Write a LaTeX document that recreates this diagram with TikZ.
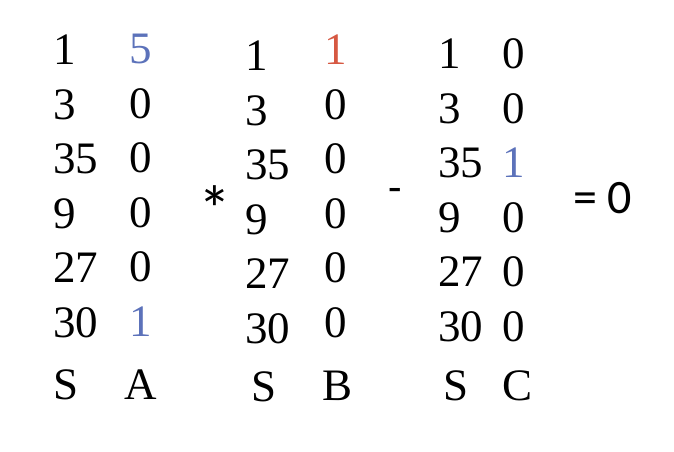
\documentclass[tikz,border=0pt]{standalone}
\usepackage{fontspec}
\setmainfont{Liberation Serif}
\newfontfamily\opfont{Carlito}
\usetikzlibrary{positioning}
\definecolor{bluemark}{RGB}{92,114,186}
\definecolor{redmark}{RGB}{214,88,66}

\begin{document}
\begin{tikzpicture}[x=1pt, y=1pt,
                node distance=54.5pt, on grid,
                cell/.style={inner sep=0pt, font=\fontsize{45}{50}\selectfont},
                scol/.style={cell, text width=48pt, align=left},
                vcol/.style={cell},
                opsym/.style={inner sep=0pt, anchor=base, font=\opfont\fontsize{48}{52}\selectfont}]
                \useasboundingbox (0,0) rectangle (674,-452);

                % First pair - S and A
                \node[scol] (sa1) at (77,-50) {1};
                \node[scol, below=of sa1] (sa2) {3};
                \node[scol, below=of sa2] (sa3) {35};
                \node[scol, below=of sa3] (sa4) {9};
                \node[scol, below=of sa4] (sa5) {27};
                \node[scol, below=of sa5] (sa6) {30};
                \node[scol, below=62pt of sa6] (sa) {S};

                \node[vcol, text=bluemark] (a1) at (141,-49) {5};
                \node[vcol, below=of a1] (a2) {0};
                \node[vcol, below=of a2] (a3) {0};
                \node[vcol, below=of a3] (a4) {0};
                \node[vcol, below=of a4] (a5) {0};
                \node[vcol, text=bluemark, below=of a5] (a6) {1};
                \node[vcol, below=63pt of a6] (a) {A};

                % Second pair - S and B
                \node[scol] (sb1) at (269,-56) {1};
                \node[scol, below=of sb1] (sb2) {3};
                \node[scol, below=of sb2] (sb3) {35};
                \node[scol, below=of sb3] (sb4) {9};
                \node[scol, below=of sb4] (sb5) {27};
                \node[scol, below=of sb5] (sb6) {30};
                \node[scol, xshift=6pt, below=58pt of sb6] (sb) {S};

                \node[vcol, text=redmark] (b1) at (336,-50) {1};
                \node[vcol, below=of b1] (b2) {0};
                \node[vcol, below=of b2] (b3) {0};
                \node[vcol, below=of b3] (b4) {0};
                \node[vcol, below=of b4] (b5) {0};
                \node[vcol, below=of b5] (b6) {0};
                \node[vcol, xshift=2pt, below=63pt of b6] (b) {B};

                % Third pair - S and C
                \node[scol] (sc1) at (462,-54) {1};
                \node[scol, below=of sc1] (sc2) {3};
                \node[scol, below=of sc2] (sc3) {35};
                \node[scol, below=of sc3] (sc4) {9};
                \node[scol, below=of sc4] (sc5) {27};
                \node[scol, below=of sc5] (sc6) {30};
                \node[scol, xshift=5pt, below=59pt of sc6] (sc) {S};

                \node[vcol] (c1) at (514,-54) {0};
                \node[vcol, below=of c1] (c2) {0};
                \node[vcol, text=bluemark, below=of c2] (c3) {1};
                \node[vcol, below=of c3] (c4) {0};
                \node[vcol, below=of c4] (c5) {0};
                \node[vcol, below=of c5] (c6) {0};
                \node[vcol, xshift=3pt, below=59pt of c6] (c) {C};

                % Operators
                \node[opsym, font=\opfont\fontsize{66}{70}\selectfont] (times) at (215,-232) {*};
                \node[opsym, font=\opfont\fontsize{44}{48}\selectfont] (minus) at (395,-202) {-};
                \node[opsym, anchor=base west] (result) at (573,-213) {= 0};
            \end{tikzpicture}
\end{document}
